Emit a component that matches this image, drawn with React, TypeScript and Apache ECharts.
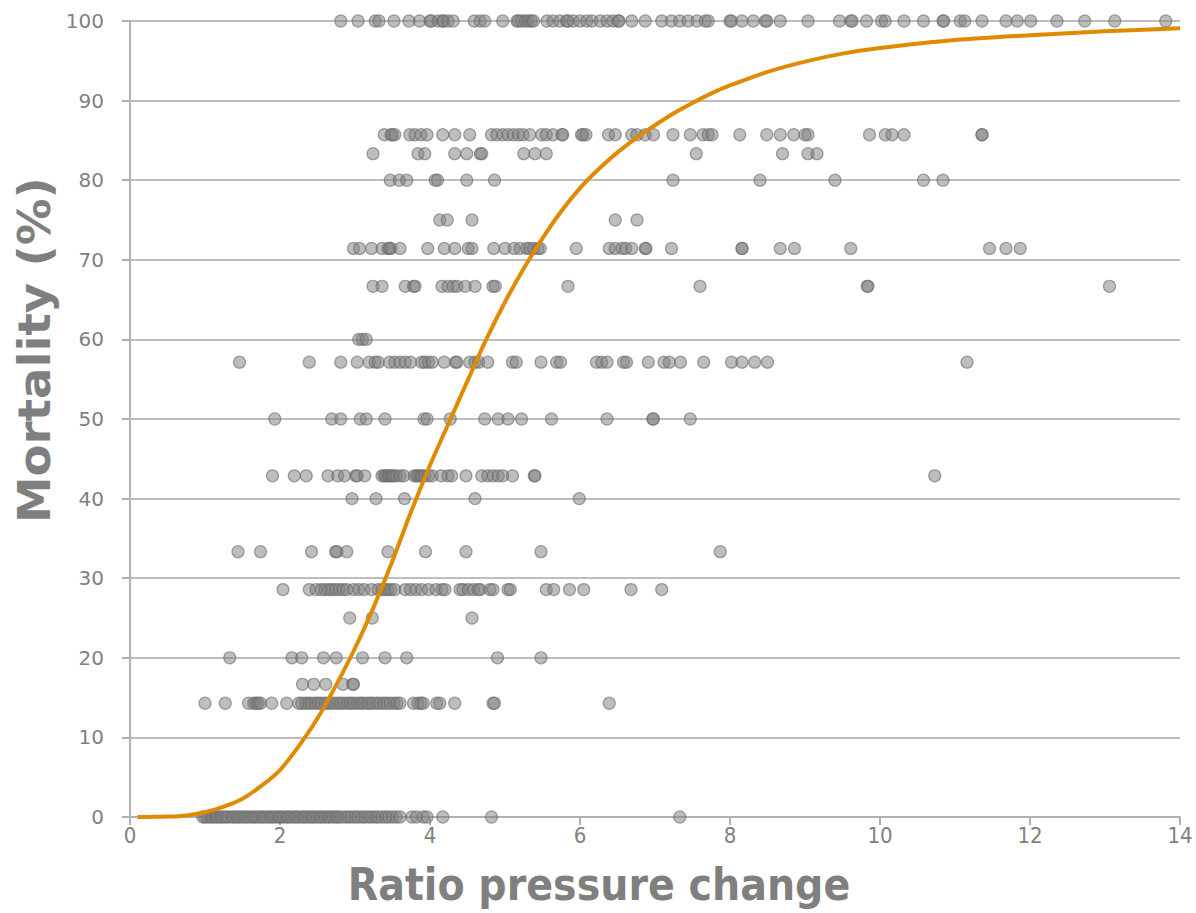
import React, { useEffect, useRef } from "react";
import * as echarts from "echarts";

// Mortality levels (%) and the ratio-pressure-change values observed at each level
const levels = [0, 14.29, 16.67, 20, 25, 28.57, 33.33, 40, 42.86, 50, 57.14, 60, 66.67, 71.43, 75, 80, 83.33, 85.71, 100];

const row0 = [0.97, 1.0, 1.03, 1.07, 1.1, 1.14, 1.17, 1.21, 1.24, 1.28, 1.31, 1.36, 1.39, 1.43, 1.46, 1.5, 1.54, 1.57, 1.61, 1.65, 1.68, 1.72, 1.76, 1.79, 1.83, 1.87, 1.9, 1.94, 1.98, 2.01, 2.05, 2.09, 2.12, 2.16, 2.2, 2.23, 2.27, 2.31, 2.34, 2.38, 2.42, 2.45, 2.49, 2.53, 2.56, 2.6, 2.64, 2.67, 2.71, 2.75, 2.78, 2.82, 2.87, 2.91, 2.95, 3.0, 3.04, 3.09, 3.13, 3.18, 3.22, 3.27, 3.31, 3.36, 3.41, 3.45, 3.5, 3.55, 3.6, 3.76, 3.82, 3.91, 3.96, 4.17, 4.82, 7.33];
const row14 = [1.0, 1.27, 1.58, 1.65, 1.68, 1.71, 1.74, 1.89, 2.09, 2.25, 2.29, 2.34, 2.38, 2.42, 2.47, 2.51, 2.55, 2.6, 2.64, 2.68, 2.72, 2.77, 2.81, 2.85, 2.9, 2.94, 2.98, 3.03, 3.07, 3.11, 3.16, 3.2, 3.24, 3.29, 3.33, 3.38, 3.42, 3.47, 3.52, 3.56, 3.6, 3.78, 3.84, 3.88, 3.91, 4.09, 4.13, 4.33, 4.84, 4.86, 6.39];
const row16 = [2.3, 2.45, 2.61, 2.84, 2.97, 2.98];
const row20 = [1.33, 2.16, 2.29, 2.58, 2.75, 3.1, 3.4, 3.69, 4.9, 5.48];
const row25 = [2.93, 3.23, 4.56];
const row28 = [2.04, 2.39, 2.48, 2.55, 2.6, 2.65, 2.69, 2.74, 2.79, 2.84, 2.89, 2.98, 3.05, 3.12, 3.22, 3.31, 3.36, 3.4, 3.44, 3.48, 3.53, 3.67, 3.74, 3.81, 3.89, 3.98, 4.08, 4.16, 4.2, 4.4, 4.44, 4.51, 4.58, 4.64, 4.67, 4.8, 4.84, 5.04, 5.07, 5.55, 5.65, 5.86, 6.05, 6.68, 7.09];
const row33 = [1.44, 1.74, 2.42, 2.74, 2.76, 2.89, 3.44, 3.94, 4.48, 5.48, 7.87];
const row40 = [2.96, 3.28, 3.66, 4.6, 5.99];
const row42 = [1.9, 2.19, 2.35, 2.64, 2.77, 2.86, 3.01, 3.03, 3.13, 3.36, 3.39, 3.41, 3.44, 3.46, 3.49, 3.51, 3.55, 3.6, 3.65, 3.79, 3.82, 3.84, 3.87, 3.89, 3.93, 3.98, 4.03, 4.15, 4.24, 4.29, 4.48, 4.69, 4.77, 4.84, 4.91, 4.97, 5.1, 5.39, 5.4, 10.73];
const row50 = [1.93, 2.69, 2.81, 3.07, 3.15, 3.4, 3.92, 3.96, 4.27, 4.73, 4.91, 5.04, 5.22, 5.62, 6.36, 6.97, 6.98, 7.47];
const row57 = [1.46, 2.39, 2.81, 3.03, 3.19, 3.27, 3.31, 3.46, 3.53, 3.6, 3.67, 3.74, 3.89, 3.93, 3.98, 4.03, 4.19, 4.34, 4.36, 4.53, 4.6, 4.65, 4.77, 5.1, 5.15, 5.48, 5.69, 5.74, 6.22, 6.29, 6.36, 6.58, 6.62, 6.91, 7.12, 7.19, 7.34, 7.65, 8.02, 8.16, 8.33, 8.5, 11.16];
const row60 = [3.05, 3.1, 3.15];
const row66 = [3.24, 3.36, 3.67, 3.78, 3.8, 4.16, 4.24, 4.31, 4.36, 4.47, 4.6, 4.84, 4.87, 5.84, 7.6, 9.83, 9.84, 13.06];
const row71 = [2.98, 3.06, 3.22, 3.36, 3.44, 3.46, 3.48, 3.6, 3.97, 4.19, 4.33, 4.51, 4.56, 4.85, 5.0, 5.12, 5.2, 5.29, 5.33, 5.38, 5.44, 5.47, 5.95, 6.39, 6.47, 6.56, 6.61, 6.69, 6.87, 6.88, 7.22, 8.16, 8.16, 8.67, 8.86, 9.61, 11.46, 11.68, 11.87];
const row75 = [4.13, 4.23, 4.56, 6.47, 6.76];
const row80 = [3.47, 3.59, 3.69, 4.07, 4.1, 4.49, 4.86, 7.24, 8.4, 9.4, 10.58, 10.84];
const row83 = [3.24, 3.84, 3.93, 4.33, 4.49, 4.67, 4.69, 5.25, 5.4, 5.55, 7.55, 8.7, 9.04, 9.16];
const row85 = [3.39, 3.48, 3.5, 3.53, 3.73, 3.8, 3.88, 3.96, 4.17, 4.33, 4.53, 4.82, 4.89, 4.97, 5.04, 5.11, 5.18, 5.24, 5.33, 5.49, 5.55, 5.64, 5.76, 5.77, 6.02, 6.04, 6.08, 6.38, 6.47, 6.69, 6.76, 6.87, 6.98, 7.24, 7.47, 7.64, 7.71, 7.76, 8.13, 8.49, 8.67, 8.85, 9.0, 9.04, 9.86, 10.07, 10.16, 10.32, 11.36, 11.36];
const row100 = [2.81, 3.04, 3.27, 3.32, 3.52, 3.72, 3.86, 4.0, 4.02, 4.11, 4.17, 4.18, 4.24, 4.31, 4.59, 4.67, 4.73, 4.97, 5.16, 5.18, 5.22, 5.27, 5.31, 5.35, 5.38, 5.56, 5.64, 5.73, 5.82, 5.84, 5.91, 6.0, 6.09, 6.16, 6.27, 6.36, 6.44, 6.51, 6.52, 6.69, 6.87, 7.09, 7.22, 7.33, 7.44, 7.56, 7.67, 7.71, 8.0, 8.02, 8.16, 8.31, 8.47, 8.49, 8.67, 9.04, 9.46, 9.61, 9.63, 9.82, 10.02, 10.07, 10.32, 10.58, 10.84, 10.85, 11.07, 11.13, 11.36, 11.68, 11.83, 12.01, 12.36, 12.73, 13.13, 13.81];

const rows = [row0, row14, row16, row20, row25, row28, row33, row40, row42, row50, row57, row60, row66, row71, row75, row80, row83, row85, row100];

// Fitted dose-response curve
const curveX = [0.1, 0.25, 0.5, 0.75, 1.0, 1.25, 1.5, 1.75, 2.0, 2.25, 2.5, 2.75, 3.0, 3.25, 3.5, 3.75, 4.0, 4.25, 4.5, 4.75, 5.0, 5.25, 5.5, 5.75, 6.0, 6.25, 6.5, 6.75, 7.0, 7.25, 7.5, 7.75, 8.0, 8.5, 9.0, 9.5, 10.0, 11.0, 12.0, 13.0, 14.0];
const curveY = [0, 0.01, 0.05, 0.2, 0.6, 1.3, 2.3, 3.9, 5.9, 8.9, 12.4, 16.6, 21.2, 26.4, 32.2, 38.4, 44.2, 49.5, 54.8, 60.0, 64.7, 68.9, 72.7, 76.1, 79.0, 81.4, 83.5, 85.3, 86.9, 88.4, 89.7, 90.9, 91.9, 93.6, 94.9, 95.9, 96.6, 97.6, 98.2, 98.7, 99.1];

const xTitle = "Ratio pressure change";
const yTitle = "Mortality (%)";

export default function App() {
  const ref = useRef<HTMLDivElement>(null);
  useEffect(() => {
    document.body.style.margin = "0";
    const chart = echarts.init(ref.current!, undefined, { renderer: "svg" });
    const points: number[][] = [];
    rows.forEach((r, i) => r.forEach((x) => points.push([x, levels[i]])));
    const curve = curveX.map((x, i) => [x, curveY[i]]);
    chart.setOption({
      animation: false,
      backgroundColor: "#ffffff",
      grid: { left: 130, right: 16, top: 21, bottom: 96 },
      xAxis: {
        type: "value",
        min: 0,
        max: 14,
        interval: 2,
        axisLine: { show: true, lineStyle: { color: "#b0b0b0", width: 2 } },
        axisTick: { show: true, length: 8, lineStyle: { color: "#b0b0b0", width: 2 } },
        splitLine: { show: false },
        axisLabel: {
          color: "#808080",
          fontSize: 22,
          fontFamily: "Liberation Sans Narrow, DejaVu Sans Condensed, sans-serif",
          margin: 7,
        },
      },
      yAxis: {
        type: "value",
        min: 0,
        max: 100,
        interval: 10,
        axisLine: { show: true, lineStyle: { color: "#b0b0b0", width: 2 } },
        axisTick: { show: true, inside: false, length: 8, lineStyle: { color: "#b0b0b0", width: 2 } },
        splitLine: { show: true, lineStyle: { color: "#bdbdbd", width: 2 } },
        axisLabel: {
          color: "#808080",
          fontSize: 20,
          fontFamily: "DejaVu Sans, sans-serif",
          margin: 26,
        },
      },
      graphic: [
        {
          type: "text",
          x: 599,
          y: 884,
          style: {
            text: xTitle,
            fill: "#7f7f7f",
            font: "bold 44px 'Liberation Sans Narrow', 'DejaVu Sans Condensed', sans-serif",
            textAlign: "center",
            textVerticalAlign: "middle",
          },
        },
        {
          type: "text",
          x: 34,
          y: 350,
          rotation: Math.PI / 2,
          scaleX: 1.18,
          style: {
            text: yTitle,
            fill: "#7f7f7f",
            font: "bold 44px 'Liberation Sans Narrow', 'DejaVu Sans Condensed', sans-serif",
            textAlign: "center",
            textVerticalAlign: "middle",
          },
        },
      ],
      series: [
        {
          type: "scatter",
          data: points,
          symbol: "circle",
          symbolSize: 12,
          itemStyle: {
            color: "rgba(128,128,128,0.64)",
            borderColor: "rgba(105,105,105,0.75)",
            borderWidth: 1.2,
          },
          z: 2,
        },
        {
          type: "line",
          data: curve,
          smooth: 0.3,
          showSymbol: false,
          lineStyle: { color: "#E08A00", width: 4 },
          z: 3,
        },
      ],
    });
    return () => chart.dispose();
  }, []);
  return <div ref={ref} style={{ width: 1196, height: 913 }} />;
}
